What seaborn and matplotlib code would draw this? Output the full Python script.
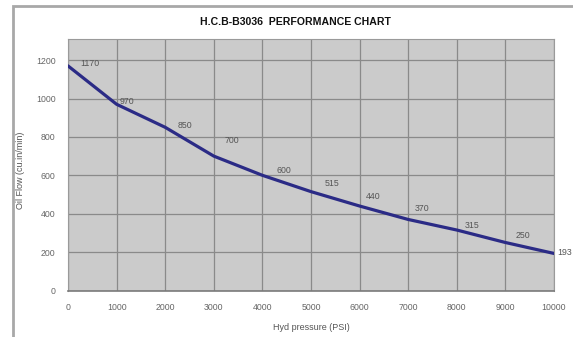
import matplotlib
matplotlib.use("Agg")
import matplotlib.pyplot as plt
from matplotlib.patches import Rectangle
import seaborn as sns
import pandas as pd

# Hydraulic pressure (PSI) vs oil flow (cu.in/min)
pressure = [0, 1000, 2000, 3000, 4000, 5000, 6000, 7000, 8000, 9000, 10000]
flow = [1170, 970, 850, 700, 600, 515, 440, 370, 315, 250, 193]
x_ticks = [0, 1000, 2000, 3000, 4000, 5000, 6000, 7000, 8000, 9000, 10000]
y_ticks = [0, 200, 400, 600, 800, 1000, 1200]

# label offsets in points (dx, dy) relative to each point
label_offsets = [(8.6, 2), (2, 2), (8.6, 1.5), (8, 11.5), (10, 3.6), (10, 6.2),
                 (4.3, 6.5), (5, 8), (5.8, 3.6), (7.2, 5.4), (2.2, 0.7)]

df = pd.DataFrame({"pressure": pressure, "flow": flow})

sns.set_theme(style="white")
plt.rcParams["font.family"] = ["Liberation Sans", "DejaVu Sans"]

W, H = 573, 337
fig = plt.figure(figsize=(W / 100, H / 100), dpi=100)
fig.patch.set_facecolor("white")

# outer chart frame
frame = Rectangle((13 / W, -0.05), 1.1, 1 - 6 / H + 0.05, transform=fig.transFigure,
                  facecolor="none", edgecolor="#a8a8a8", linewidth=2.0, zorder=0)
fig.patches.append(frame)

ax = fig.add_axes([68 / W, (H - 290.5) / H, (554 - 68) / W, (290.5 - 39) / H])
ax.set_facecolor("#cbcbcb")

sns.lineplot(data=df, x="pressure", y="flow", ax=ax, color="#2b2b86", linewidth=2.3, zorder=3)

for (px, fy), (dx, dy) in zip(zip(pressure, flow), label_offsets):
    ax.annotate(f"{fy}", (px, fy), xytext=(dx, dy), textcoords="offset points",
                fontsize=6.3, color="#555555", ha="left", va="center",
                annotation_clip=False, zorder=4)

ax.set_xlim(0, 10000)
ax.set_ylim(0, 1310)
ax.set_xticks(x_ticks)
ax.set_yticks(y_ticks)
ax.set_xticklabels([str(t) for t in x_ticks])
ax.set_yticklabels([str(t) for t in y_ticks])
ax.tick_params(axis="both", labelsize=6.3, labelcolor="#666666", length=0)
ax.tick_params(axis="x", pad=9)
ax.tick_params(axis="y", pad=9)

ax.grid(True, color="#8a8a8a", linewidth=0.9)
ax.set_axisbelow(True)
for name, sp in ax.spines.items():
    sp.set_visible(True)
    sp.set_color("#9a9a9a")
    sp.set_linewidth(0.8)
ax.spines["bottom"].set_color("#7a7a7a")
ax.spines["bottom"].set_linewidth(1.2)

ax.set_xlabel("")
ax.set_ylabel("")
fig.text(311 / W, 1 - 327 / H, "Hyd pressure (PSI)", ha="center", va="center",
         fontsize=6.5, color="#555555")
fig.text(21 / W, 1 - 170 / H, "Oil Flow (cu.in/min)", ha="center", va="center",
         rotation=90, fontsize=6.5, color="#555555")

fig.text(295 / W, 1 - 22 / H, "H.C.B-B3036  PERFORMANCE CHART", ha="center", va="center",
         fontsize=7.6, fontweight="bold", color="#111111")

fig.savefig("out.png", dpi=100)
